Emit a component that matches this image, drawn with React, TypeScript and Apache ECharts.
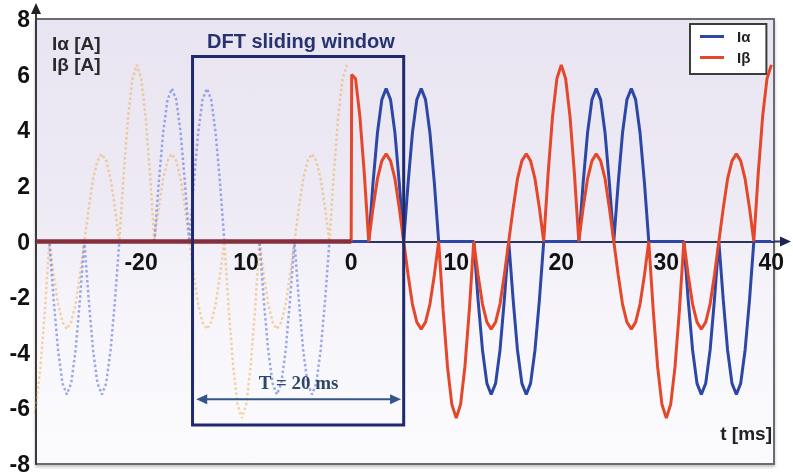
import React, { useEffect, useRef } from "react";
import * as echarts from "echarts";

// ---- axis ticks ----
const tTickValues = [-30, -20, -10, 0, 10, 20, 30, 40];
const tTickLabels = ["", "-20", "10", "0", "10", "20", "30", "40"];

// ---- signal before t = 0 (flat) ----
const tPre = [-30, 0];
const iPre = [0, 0];

// ---- measured currents, t in ms ----
const tMain = [
  0, 0.05, 0.42, 0.83, 1.25, 1.67, 2.08, 2.5, 2.92, 3.33, 3.75, 4.17, 4.58, 5, 5.42, 5.83, 6.25, 6.67, 7.08, 7.5, 7.92, 8.33, 8.75, 9.17, 9.58,
  10, 10.42, 10.83, 11.25, 11.67, 12.08, 12.5, 12.92, 13.33, 13.75, 14.17, 14.58, 15, 15.42, 15.83, 16.25, 16.67, 17.08, 17.5, 17.92, 18.33, 18.75, 19.17, 19.58,
  20, 20.42, 20.83, 21.25, 21.67, 22.08, 22.5, 22.92, 23.33, 23.75, 24.17, 24.58, 25, 25.42, 25.83, 26.25, 26.67, 27.08, 27.5, 27.92, 28.33, 28.75, 29.17, 29.58,
  30, 30.42, 30.83, 31.25, 31.67, 32.08, 32.5, 32.92, 33.33, 33.75, 34.17, 34.58, 35, 35.42, 35.83, 36.25, 36.67, 37.08, 37.5, 37.92, 38.33, 38.75, 39.17, 39.58,
  40,
];
const iAlpha = [
  0, 0, 0, 0, 0, 0, 2.1, 3.9, 5.1, 5.5, 5.1, 3.9, 2.1, 0, 2.1, 3.9, 5.1, 5.5, 5.1, 3.9, 2.1, 0, 0, 0, 0,
  0, 0, 0, 0, 0, -2.1, -3.9, -5.1, -5.5, -5.1, -3.9, -2.1, 0, -2.1, -3.9, -5.1, -5.5, -5.1, -3.9, -2.1, 0, 0, 0, 0,
  0, 0, 0, 0, 0, 2.1, 3.9, 5.1, 5.5, 5.1, 3.9, 2.1, 0, 2.1, 3.9, 5.1, 5.5, 5.1, 3.9, 2.1, 0, 0, 0, 0,
  0, 0, 0, 0, 0, -2.1, -3.9, -5.1, -5.5, -5.1, -3.9, -2.1, 0, -2.1, -3.9, -5.1, -5.5, -5.1, -3.9, -2.1, 0, 0, 0, 0,
  0,
];
const iBeta = [
  0, 6.0, 5.85, 4.5, 2.45, 0, 1.2, 2.25, 2.9, 3.15, 2.9, 2.25, 1.2, 0, -1.2, -2.25, -2.9, -3.15, -2.9, -2.25, -1.2, 0, -2.45, -4.5, -5.85,
  -6.35, -5.85, -4.5, -2.45, 0, -1.2, -2.25, -2.9, -3.15, -2.9, -2.25, -1.2, 0, 1.2, 2.25, 2.9, 3.15, 2.9, 2.25, 1.2, 0, 2.45, 4.5, 5.85,
  6.35, 5.85, 4.5, 2.45, 0, 1.2, 2.25, 2.9, 3.15, 2.9, 2.25, 1.2, 0, -1.2, -2.25, -2.9, -3.15, -2.9, -2.25, -1.2, 0, -2.45, -4.5, -5.85,
  -6.35, -5.85, -4.5, -2.45, 0, -1.2, -2.25, -2.9, -3.15, -2.9, -2.25, -1.2, 0, 1.2, 2.25, 2.9, 3.15, 2.9, 2.25, 1.2, 0, 2.45, 4.5, 5.85,
  6.35,
];

// ---- faded "past" signal inside the history region ----
const tGhost = [
  -30.4, -29.98, -29.57, -29.15, -28.73, -28.32, -27.9, -27.48, -27.07, -26.65, -26.23, -25.82, -25.4, -24.98, -24.57, -24.15, -23.73, -23.32, -22.9, -22.48, -22.07, -21.65, -21.23, -20.82,
  -20.4, -19.98, -19.57, -19.15, -18.73, -18.32, -17.9, -17.48, -17.07, -16.65, -16.23, -15.82, -15.4, -14.98, -14.57, -14.15, -13.73, -13.32, -12.9, -12.48, -12.07, -11.65, -11.23, -10.82,
  -10.4, -9.98, -9.57, -9.15, -8.73, -8.32, -7.9, -7.48, -7.07, -6.65, -6.23, -5.82, -5.4, -4.98, -4.57, -4.15, -3.73, -3.32, -2.9, -2.48, -2.07, -1.65, -1.23, -0.82,
  -0.4,
];
const iAlphaGhost = [
  0, 0, 0, 0, 0, -2.1, -3.9, -5.1, -5.5, -5.1, -3.9, -2.1, 0, -2.1, -3.9, -5.1, -5.5, -5.1, -3.9, -2.1, 0, 0, 0, 0,
  0, 0, 0, 0, 0, 2.1, 3.9, 5.1, 5.5, 5.1, 3.9, 2.1, 0, 2.1, 3.9, 5.1, 5.5, 5.1, 3.9, 2.1, 0, 0, 0, 0,
  0, 0, 0, 0, 0, -2.1, -3.9, -5.1, -5.5, -5.1, -3.9, -2.1, 0, -2.1, -3.9, -5.1, -5.5, -5.1, -3.9, -2.1, 0, 0, 0, 0,
  0,
];
const iBetaGhost = [
  -6.35, -5.85, -4.5, -2.45, 0, -1.2, -2.25, -2.9, -3.15, -2.9, -2.25, -1.2, 0, 1.2, 2.25, 2.9, 3.15, 2.9, 2.25, 1.2, 0, 2.45, 4.5, 5.85,
  6.35, 5.85, 4.5, 2.45, 0, 1.2, 2.25, 2.9, 3.15, 2.9, 2.25, 1.2, 0, -1.2, -2.25, -2.9, -3.15, -2.9, -2.25, -1.2, 0, -2.45, -4.5, -5.85,
  -6.35, -5.85, -4.5, -2.45, 0, -1.2, -2.25, -2.9, -3.15, -2.9, -2.25, -1.2, 0, 1.2, 2.25, 2.9, 3.15, 2.9, 2.25, 1.2, 0, 2.45, 4.5, 5.85,
  6.35,
];

// ---- sliding window annotation (data coordinates) ----
const windowStart = -15.1;
const windowEnd = 5.0;
const windowTop = 6.65;
const windowBottom = -6.6;
const periodArrowY = -5.67;

const X_MIN = -30;
const X_MAX = 40.25;
const Y_MIN = -8;
const Y_MAX = 8;

const GRID_TOP = 19;
const GRID_BOTTOM = 12;
const CHART_H = 476;

const SANS = "'Liberation Sans', Arial, Helvetica, sans-serif";
const SERIF = "'Liberation Serif', 'Times New Roman', serif";

export default function App() {
  const ref = useRef<HTMLDivElement>(null);

  useEffect(() => {
    const el = ref.current as HTMLDivElement;
    const chart = echarts.init(el, null, { renderer: "svg" });
    const zip = (t: number[], v: number[]) => t.map((x, i) => [x, v[i]]);

    const blue = "#2c47a6";
    const red = "#e5472b";

    // distance (px) from the grid bottom up to the value 0
    const gridH = CHART_H - GRID_TOP - GRID_BOTTOM;
    const zeroOffset = -gridH * ((0 - Y_MIN) / (Y_MAX - Y_MIN));

    chart.setOption({
      animation: false,
      grid: { left: 36, right: 19, top: GRID_TOP, bottom: GRID_BOTTOM, outerBoundsMode: "none" },
      legend: {
        data: ["Iα", "Iβ"],
        orient: "vertical",
        left: 690,
        top: 24,
        padding: [5, 16, 9, 10],
        icon: "rect",
        itemWidth: 24,
        itemHeight: 3,
        itemGap: 6,
        backgroundColor: "#ffffff",
        borderColor: "#3c3c3c",
        borderWidth: 2,
        borderRadius: 0,
        textStyle: { fontFamily: SANS, fontSize: 15, fontWeight: "bold", color: "#222", padding: [0, 0, 0, 8] },
      },
      xAxis: {
        type: "value",
        position: "bottom",
        offset: zeroOffset,
        min: X_MIN,
        max: X_MAX,
        interval: 10,
        splitLine: { show: false },
        axisTick: { show: false },
        axisLine: { show: true, onZero: false, lineStyle: { color: "#2b3361", width: 2 } },
        axisLabel: {
          margin: 9,
          fontFamily: SANS,
          fontSize: 23,
          fontWeight: "bold",
          color: "#111",
          formatter: (v: number) => {
            const i = tTickValues.findIndex((tv) => Math.abs(tv - v) < 1e-6);
            return i >= 0 ? tTickLabels[i] : "";
          },
        },
      },
      yAxis: {
        type: "value",
        min: Y_MIN,
        max: Y_MAX,
        interval: 2,
        splitLine: { show: false },
        axisTick: { show: false },
        axisLine: { show: true, onZero: false, lineStyle: { color: "#3a3a3a", width: 2 } },
        axisLabel: { margin: 6, fontFamily: SANS, fontSize: 23, fontWeight: "bold", color: "#111" },
      },
      series: [
        {
          type: "line",
          data: zip(tGhost, iBetaGhost),
          symbol: "none",
          silent: true,
          z: 1,
          lineStyle: { color: "rgba(232,165,60,0.45)", width: 2.5, type: "dotted" },
        },
        {
          type: "line",
          data: zip(tGhost, iAlphaGhost),
          symbol: "none",
          silent: true,
          z: 1,
          lineStyle: { color: "rgba(95,115,225,0.6)", width: 2.5, type: "dotted" },
        },
        {
          name: "Iα",
          type: "line",
          data: zip(tMain, iAlpha),
          symbol: "none",
          z: 3,
          itemStyle: { color: blue },
          lineStyle: { color: blue, width: 3 },
        },
        {
          name: "Iβ",
          type: "line",
          data: zip(tMain, iBeta),
          symbol: "none",
          z: 4,
          itemStyle: { color: red },
          lineStyle: { color: red, width: 3 },
        },
        {
          type: "line",
          data: zip(tPre, iPre),
          symbol: "none",
          silent: true,
          z: 5,
          lineStyle: { color: "#84303c", width: 4.5 },
        },
      ],
    });

    const px = (x: number, y: number) => chart.convertToPixel({ gridIndex: 0 }, [x, y]) as number[];
    const [fx0, fy0] = px(X_MIN, Y_MAX);
    const [fx1, fy1] = px(X_MAX, Y_MIN);
    const [, zeroY] = px(0, 0);
    const [wx0, wy0] = px(windowStart, windowTop);
    const [wx1, wy1] = px(windowEnd, windowBottom);
    const [ax0, ay] = px(windowStart + 0.35, periodArrowY);
    const [ax1] = px(windowEnd - 0.25, periodArrowY);
    const arrowColor = "#34548a";
    const xEnd = 791;
    const yTop = 3;

    chart.setOption({
      graphic: [
        {
          type: "rect",
          z: -10,
          silent: true,
          shape: { x: fx0, y: fy0, width: fx1 - fx0, height: fy1 - fy0 },
          style: {
            fill: new echarts.graphic.LinearGradient(0, 0, 0, 1, [
              { offset: 0, color: "#e8e4f1" },
              { offset: 0.45, color: "#eeebf5" },
              { offset: 0.62, color: "#f6f4fa" },
              { offset: 1, color: "#fbfbfd" },
            ]),
            stroke: "#6b6b70",
            lineWidth: 2,
            shadowBlur: 3,
            shadowColor: "rgba(0,0,0,0.25)",
            shadowOffsetY: 2,
          },
        },
        // y axis arrow
        { type: "line", z: 20, silent: true, shape: { x1: fx0, y1: fy0, x2: fx0, y2: yTop + 8 }, style: { stroke: "#3a3a3a", lineWidth: 2 } },
        {
          type: "polygon",
          z: 20,
          silent: true,
          shape: { points: [[fx0 - 5, yTop + 11], [fx0, yTop], [fx0 + 5, yTop + 11]] },
          style: { fill: "#222" },
        },
        // x axis arrow
        { type: "line", z: 20, silent: true, shape: { x1: fx1, y1: zeroY, x2: xEnd - 8, y2: zeroY }, style: { stroke: "#2b3361", lineWidth: 2 } },
        {
          type: "polygon",
          z: 20,
          silent: true,
          shape: { points: [[xEnd - 11, zeroY - 5], [xEnd, zeroY], [xEnd - 11, zeroY + 5]] },
          style: { fill: "#1e2450" },
        },
        // sliding window
        {
          type: "rect",
          z: 20,
          silent: true,
          shape: { x: wx0, y: wy0, width: wx1 - wx0, height: wy1 - wy0 },
          style: { fill: "none", stroke: "#1f2a6e", lineWidth: 3 },
        },
        // period arrow
        { type: "line", z: 20, silent: true, shape: { x1: ax0 + 4, y1: ay, x2: ax1 - 4, y2: ay }, style: { stroke: arrowColor, lineWidth: 2 } },
        {
          type: "polygon",
          z: 20,
          silent: true,
          shape: { points: [[ax0, ay], [ax0 + 11, ay - 5], [ax0 + 11, ay + 5]] },
          style: { fill: arrowColor },
        },
        {
          type: "polygon",
          z: 20,
          silent: true,
          shape: { points: [[ax1, ay], [ax1 - 11, ay - 5], [ax1 - 11, ay + 5]] },
          style: { fill: arrowColor },
        },
        {
          type: "text",
          z: 20,
          silent: true,
          x: (ax0 + ax1) / 2,
          y: ay - 17,
          style: {
            text: "T = 20 ms",
            fontFamily: SERIF,
            fontSize: 19,
            fontWeight: "bold",
            fill: "#2f4868",
            align: "center",
            verticalAlign: "middle",
          },
        },
        // titles
        {
          type: "text",
          z: 20,
          silent: true,
          x: 52,
          y: 43,
          style: { text: "Iα [A]", fontFamily: SANS, fontSize: 19, fontWeight: "bold", fill: "#2a2a2a", verticalAlign: "middle" },
        },
        {
          type: "text",
          z: 20,
          silent: true,
          x: 52,
          y: 64,
          style: { text: "Iβ [A]", fontFamily: SANS, fontSize: 19, fontWeight: "bold", fill: "#2a2a2a", verticalAlign: "middle" },
        },
        {
          type: "text",
          z: 20,
          silent: true,
          x: 207,
          y: 41,
          style: { text: "DFT sliding window", fontFamily: SANS, fontSize: 20, fontWeight: "bold", fill: "#27336f", verticalAlign: "middle" },
        },
        {
          type: "text",
          z: 20,
          silent: true,
          x: 772,
          y: 433,
          style: { text: "t [ms]", fontFamily: SANS, fontSize: 19, fontWeight: "bold", fill: "#222", align: "right", verticalAlign: "middle" },
        },
      ],
    });

    return () => chart.dispose();
  }, []);

  return <div ref={ref} style={{ position: "fixed", left: 0, top: 0, width: 793, height: 476 }} />;
}
